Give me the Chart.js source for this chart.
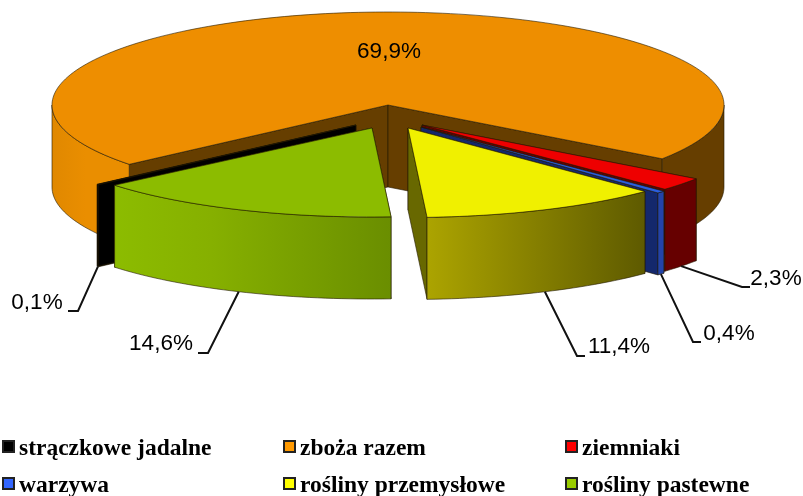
<!DOCTYPE html>
<html>
<head>
<meta charset="utf-8">
<script src="https://cdn.jsdelivr.net/npm/chart.js@4"></script>
<style>
    html, body { margin: 0; padding: 0; background: #fff; }
    #wrap { position: relative; width: 803px; height: 496px; overflow: hidden; }
    #legend { position: absolute; left: 0; top: 0; font: bold 23.5px "Liberation Serif", serif; color: #000; }
    .item { position: absolute; white-space: nowrap; line-height: 24px; height: 24px; }
    .item i { position: absolute; left: -17px; top: 5px; width: 9px; height: 9px; border: 2px solid #222; }
</style>
</head>
<body>
<div id="wrap">
    <canvas id="pie" width="803" height="496"></canvas>
    <div id="legend"></div>
</div>
<script>
const CATEGORIES = ['strączkowe jadalne', 'zboża razem', 'ziemniaki', 'warzywa', 'rośliny przemysłowe', 'rośliny pastewne'];
const VALUES = [0.1, 69.9, 2.3, 0.4, 11.4, 14.6];

// colours per slice: top face, cut faces, rim gradient stops, legend swatch
const TOP_COLORS = ['#000000', '#ee8e00', '#ee0000', '#2a5ee0', '#f0f000', '#8cbc00'];
const CUT_COLORS = ['#000000', '#663e00', '#660000', '#14286c', '#686800', '#6c8f00'];
const RIM_STOPS = [
    [[0, '#000000'], [1, '#000000']],
    [[0, '#e08800'], [0.05, '#ea8e00'], [0.2, '#ea8e00'], [0.8, '#663e00'], [1, '#663e00']],
    [[0, '#660000'], [1, '#660000']],
    [[0, '#2444a8'], [1, '#2444a8']],
    [[0, '#aca400'], [1, '#5e5a00']],
    [[0, '#8cbc00'], [0.35, '#86b000'], [1, '#6a8e00']]
];
const SWATCH_COLORS = ['#000000', '#ff9900', '#ff0000', '#3366ff', '#ffff00', '#99cc00'];

// how the flat pie is laid over: squashed ellipse, wall height, how far each slice is pulled out
const PIE_X = 388, PIE_Y = 105, RADIUS_X = 336, WALL = 82;
const RADIUS_Y = [93, 93, 93, 93, 89.5, 89];
const PULL_X = [-32, 0, 34, 33, 20, -16];
const PULL_Y = [20, 0, 20, 22, 23, 23];
const DRAW_ORDER = [1, 0, 2, 3, 4, 5];

// leader line bend and end, then text position (null = no leader line)
const LABEL_SPOTS = [
    { bend: [78, 311], end: [68, 311], text: [37, 303] },
    { bend: null, end: null, text: [389, 52] },
    { bend: [742, 287], end: [750, 287], text: [776, 279] },
    { bend: [693, 342], end: [701, 342], text: [729, 334] },
    { bend: [577, 356], end: [585, 356], text: [619, 347] },
    { bend: [208, 353], end: [198, 353], text: [161, 344] }
];

const LEGEND_COLS = [19, 300, 582];
const LEGEND_ROWS = [435, 472];

function sliceGeometry(arc, i) {
    const p = arc.getProps(['startAngle', 'endAngle']);
    const at = (a) => ({ x: PIE_X + PULL_X[i] + RADIUS_X * Math.cos(a), y: PIE_Y + PULL_Y[i] + RADIUS_Y[i] * Math.sin(a) });
    return { a0: p.startAngle, a1: p.endAngle, tip: { x: PIE_X + PULL_X[i], y: PIE_Y + PULL_Y[i] }, at };
}

function poly(ctx, pts) {
    ctx.beginPath();
    pts.forEach((q, n) => n ? ctx.lineTo(q.x, q.y) : ctx.moveTo(q.x, q.y));
    ctx.closePath();
}

function arcPoints(g, from, to) {
    const pts = [];
    const steps = Math.max(2, Math.ceil((to - from) * 40));
    for (let n = 0; n <= steps; n++) pts.push(g.at(from + (to - from) * n / steps));
    return pts;
}

// the parts of the rim that face the viewer (lower half of the ellipse)
function frontRuns(g) {
    const runs = [];
    for (let k = -1; k <= 1; k++) {
        const from = Math.max(g.a0, k * 2 * Math.PI);
        const to = Math.min(g.a1, k * 2 * Math.PI + Math.PI);
        if (to > from) runs.push([from, to]);
    }
    return runs;
}

const down = (q) => ({ x: q.x, y: q.y + WALL });
const EDGE = 'rgba(35,25,0,0.75)';

const pie3d = {
    id: 'pie3d',
    beforeDatasetsDraw(chart) {
        const ctx = chart.ctx;
        const arcs = chart.getDatasetMeta(0).data;
        ctx.save();
        ctx.strokeStyle = EDGE;
        ctx.lineWidth = 0.8;
        DRAW_ORDER.forEach((i) => {
            const arc = arcs[i];
            const g = sliceGeometry(arc, i);
            const rim = arcPoints(g, g.a0, g.a1);

            // cut faces
            [rim[0], rim[rim.length - 1]].forEach((c) => {
                poly(ctx, [g.tip, c, down(c), down(g.tip)]);
                ctx.fillStyle = CUT_COLORS[i];
                ctx.fill();
                ctx.stroke();
            });

            // outer wall
            const xs = rim.map(q => q.x);
            const grad = ctx.createLinearGradient(Math.min(...xs), 0, Math.max(...xs), 0);
            RIM_STOPS[i].forEach(s => grad.addColorStop(s[0], s[1]));
            frontRuns(g).forEach((run) => {
                const front = arcPoints(g, run[0], run[1]);
                poly(ctx, front.concat(front.map(down).reverse()));
                ctx.fillStyle = grad;
                ctx.fill();
                ctx.stroke();
            });

            // top face: the library's own arc, squashed onto the ellipse
            const p = arc.getProps(['x', 'y', 'outerRadius']);
            ctx.save();
            ctx.translate(g.tip.x, g.tip.y);
            ctx.scale(RADIUS_X / p.outerRadius, RADIUS_Y[i] / p.outerRadius);
            ctx.translate(-p.x, -p.y);
            arc.draw(ctx, chart.chartArea);
            ctx.restore();
            poly(ctx, [g.tip].concat(rim));
            ctx.stroke();
        });
        ctx.restore();
        return false;
    },
    afterDraw(chart) {
        const ctx = chart.ctx;
        const arcs = chart.getDatasetMeta(0).data;
        ctx.save();
        ctx.font = '22.5px "Liberation Sans", Arial, sans-serif';
        ctx.textAlign = 'center';
        ctx.textBaseline = 'middle';
        VALUES.forEach((v, i) => {
            const spot = LABEL_SPOTS[i];
            if (spot.bend) {
                const g = sliceGeometry(arcs[i], i);
                const from = down(g.at((g.a0 + g.a1) / 2));
                ctx.beginPath();
                ctx.moveTo(from.x, from.y);
                ctx.lineTo(spot.bend[0], spot.bend[1]);
                ctx.lineTo(spot.end[0], spot.end[1]);
                ctx.strokeStyle = '#111';
                ctx.lineWidth = 2;
                ctx.stroke();
            }
            ctx.fillStyle = '#000';
            ctx.fillText(v.toFixed(1).replace('.', ',') + '%', spot.text[0], spot.text[1]);
        });
        ctx.restore();
    }
};

new Chart(document.getElementById('pie').getContext('2d'), {
    type: 'pie',
    data: {
        labels: CATEGORIES,
        datasets: [{ data: VALUES, backgroundColor: TOP_COLORS, borderWidth: 0 }]
    },
    options: {
        responsive: false,
        animation: false,
        events: [],
        rotation: 230,
        plugins: { legend: { display: false }, tooltip: { enabled: false } }
    },
    plugins: [pie3d]
});

const legend = document.getElementById('legend');
CATEGORIES.forEach((name, i) => {
    const item = document.createElement('div');
    item.className = 'item';
    item.style.left = LEGEND_COLS[i % 3] + 'px';
    item.style.top = LEGEND_ROWS[Math.floor(i / 3)] + 'px';
    item.textContent = name;
    const box = document.createElement('i');
    box.style.background = SWATCH_COLORS[i];
    item.appendChild(box);
    legend.appendChild(item);
});
</script>
</body>
</html>
